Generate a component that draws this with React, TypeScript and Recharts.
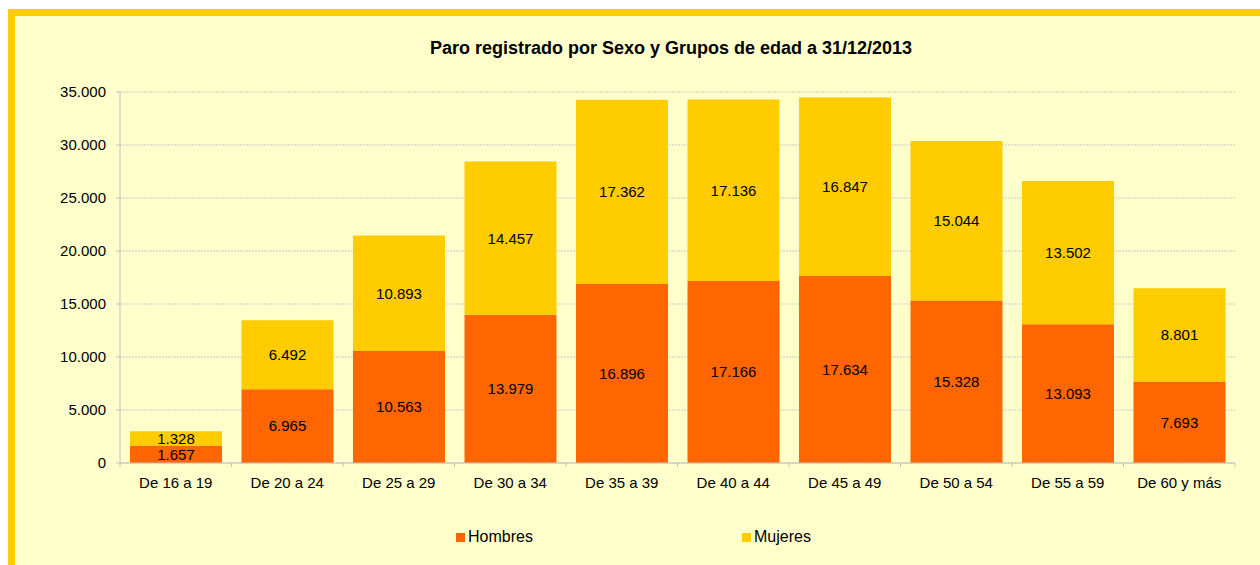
import React from 'react';
import { BarChart, Bar, XAxis, YAxis, CartesianGrid, Legend, LabelList } from 'recharts';

const grupos = ['De 16 a 19', 'De 20 a 24', 'De 25 a 29', 'De 30 a 34', 'De 35 a 39', 'De 40 a 44', 'De 45 a 49', 'De 50 a 54', 'De 55 a 59', 'De 60 y más'];
const hombres = [1657, 6965, 10563, 13979, 16896, 17166, 17634, 15328, 13093, 7693];
const mujeres = [1328, 6492, 10893, 14457, 17362, 17136, 16847, 15044, 13502, 8801];
const yTicks = [0, 5000, 10000, 15000, 20000, 25000, 30000, 35000];

const data = grupos.map((g, i) => ({ grupo: g, Hombres: hombres[i], Mujeres: mujeres[i] }));

const FONT = '"Liberation Sans", Arial, sans-serif';
const W = 1245;
const H = 549;
const M = { top: 76, right: 25, bottom: 52, left: 0 };
const Y_W = 105;
const band = (W - M.left - M.right - Y_W) / grupos.length;

const fmt = (v: any) => String(v).replace(/\B(?=(\d{3})+(?!\d))/g, '.');

const XTick = (props: any) => {
  const { x, y, payload, index } = props;
  const half = band / 2;
  return (
    <g>
      {index === 0 && <line x1={x - half} x2={x - half} y1={y - 8} y2={y - 4} stroke="#BFBFBF" />}
      <line x1={x + half} x2={x + half} y1={y - 8} y2={y - 4} stroke="#BFBFBF" />
      <text x={x} y={y + 17} textAnchor="middle" fontSize={15} fontFamily={FONT} fill="#000">
        {payload.value}
      </text>
    </g>
  );
};

const LegendContent = () => (
  <div style={{ position: 'relative', height: 20, fontFamily: FONT, fontSize: 16, color: '#000' }}>
    <div style={{ position: 'absolute', left: 441, top: 0, display: 'flex', alignItems: 'center' }}>
      <span style={{ width: 9, height: 9, background: '#FF6600', display: 'inline-block', marginRight: 3 }} />
      Hombres
    </div>
    <div style={{ position: 'absolute', left: 727, top: 0, display: 'flex', alignItems: 'center' }}>
      <span style={{ width: 9, height: 9, background: '#FFCC00', display: 'inline-block', marginRight: 3 }} />
      Mujeres
    </div>
  </div>
);

export default function App() {
  return (
    <div
      style={{
        position: 'fixed',
        left: 8,
        top: 9,
        width: 1252,
        height: 556,
        boxSizing: 'border-box',
        background: '#FFFFCC',
        borderTop: '7px solid #FFCC00',
        borderLeft: '7px solid #FFCC00',
        fontFamily: FONT,
      }}
    >
      <div
        style={{
          position: 'absolute',
          left: 0,
          width: 1312,
          top: 22,
          textAlign: 'center',
          fontWeight: 'bold',
          fontSize: 18,
          color: '#000',
        }}
      >
        Paro registrado por Sexo y Grupos de edad a 31/12/2013
      </div>
      <BarChart width={W} height={H} data={data} margin={M} barSize={92}>
        <CartesianGrid vertical={false} stroke="#C8C8C8" strokeDasharray="2 1" />
        <XAxis
          dataKey="grupo"
          interval={0}
          height={30}
          tickLine={false}
          axisLine={{ stroke: '#BFBFBF' }}
          tick={<XTick />}
        />
        <YAxis
          width={Y_W}
          domain={[0, 35000]}
          ticks={yTicks}
          tickFormatter={fmt}
          tickSize={4}
          tickMargin={10}
          tickLine={{ stroke: '#BFBFBF' }}
          axisLine={{ stroke: '#BFBFBF' }}
          tick={{ fontSize: 15, fontFamily: FONT, fill: '#000' }}
        />
        <Legend
          verticalAlign="bottom"
          wrapperStyle={{ left: 0, width: W, bottom: 'auto', top: 512 }}
          content={<LegendContent />}
        />
        <Bar dataKey="Hombres" stackId="a" fill="#FF6600" isAnimationActive={false}>
          <LabelList dataKey="Hombres" position="center" formatter={fmt} fill="#000" fontSize={15} fontFamily={FONT} />
        </Bar>
        <Bar dataKey="Mujeres" stackId="a" fill="#FFCC00" isAnimationActive={false}>
          <LabelList dataKey="Mujeres" position="center" formatter={fmt} fill="#000" fontSize={15} fontFamily={FONT} />
        </Bar>
      </BarChart>
    </div>
  );
}
